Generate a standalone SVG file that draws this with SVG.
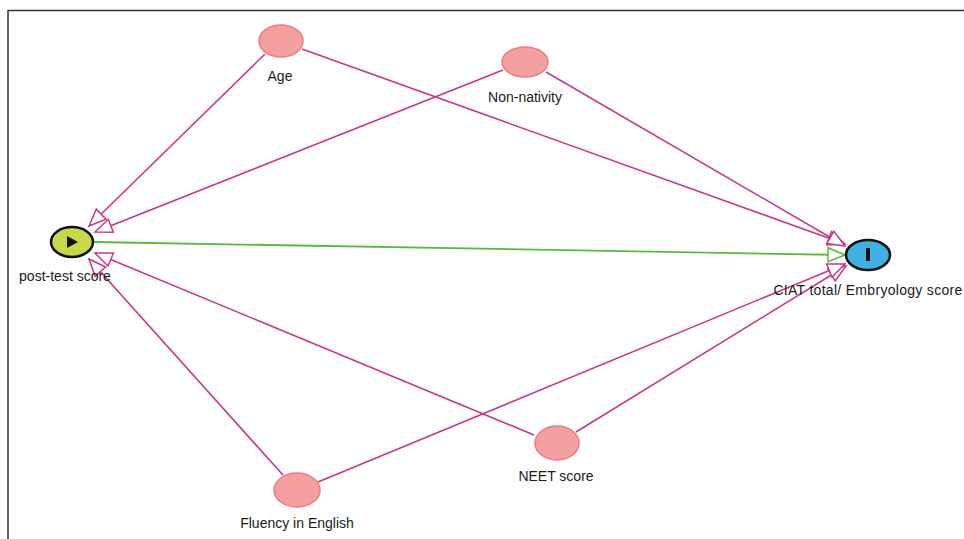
<svg xmlns="http://www.w3.org/2000/svg" width="964" height="539" viewBox="0 0 964 539">
  <style>
    .edge { fill: none; stroke: #c8378a; stroke-width: 1.6; marker-end: url(#arrow-pink); }
    .edge-main { fill: none; stroke: #5db83a; stroke-width: 1.8; marker-end: url(#arrow-green); }
    .var { fill: #f4a0a0; stroke: #ee7b80; stroke-width: 1.5; }
    .label { font-family: "Liberation Sans", Arial, sans-serif; font-size: 14px; fill: #1a1a1a; text-anchor: middle; }
  </style>
  <defs>
    <marker id="arrow-pink" viewBox="-19 -9 21 18" refX="0" refY="0" markerWidth="21" markerHeight="18" markerUnits="userSpaceOnUse" orient="auto">
      <path d="M0,0 L-17,-7 L-17,7 Z" fill="#fff" stroke="#c8378a" stroke-width="1.5"/>
    </marker>
    <marker id="arrow-green" viewBox="-19 -9 21 18" refX="0" refY="0" markerWidth="21" markerHeight="18" markerUnits="userSpaceOnUse" orient="auto">
      <path d="M0,0 L-17,-7 L-17,7 Z" fill="#fff" stroke="#5db83a" stroke-width="1.5"/>
    </marker>
  </defs>

  <rect width="964" height="539" fill="#fff"/>
  <!-- frame -->
  <path d="M8,539 V10.5 H964" fill="none" stroke="#333" stroke-width="1.5"/>

  <g id="connectors">
    <line class="edge" x1="265" y1="54" x2="89" y2="226"/>
    <line class="edge" x1="302" y1="49" x2="845" y2="244"/>
    <line class="edge" x1="503" y1="70" x2="95" y2="232"/>
    <line class="edge" x1="546" y1="72" x2="845" y2="246"/>
    <line class="edge" x1="534" y1="435" x2="95" y2="253"/>
    <line class="edge" x1="576" y1="432" x2="846" y2="266"/>
    <line class="edge" x1="283" y1="475" x2="89" y2="259"/>
    <line class="edge" x1="318" y1="482" x2="845" y2="264"/>
    <line class="edge-main" x1="94" y1="242" x2="845" y2="255"/>
  </g>

  <g id="post-test-score">
    <ellipse cx="72" cy="242" rx="21" ry="15" fill="#c7d84a" stroke="#111" stroke-width="2.5"/>
    <path d="M67,236 L67,248 L78,242 Z" fill="#111"/>
    <text class="label" x="65" y="281">post-test score</text>
  </g>

  <g id="ciat-total">
    <ellipse cx="868" cy="255" rx="22" ry="15" fill="#3fb2e3" stroke="#111" stroke-width="2.5"/>
    <rect x="866" y="248" width="4" height="13" fill="#111"/>
    <text class="label" x="868" y="295" letter-spacing="0.3">CIAT total/ Embryology score</text>
  </g>

  <g id="age">
    <ellipse class="var" cx="281" cy="41" rx="22" ry="16"/>
    <text class="label" x="280" y="81">Age</text>
  </g>

  <g id="non-nativity">
    <ellipse class="var" cx="525" cy="62" rx="23" ry="15"/>
    <text class="label" x="525" y="102">Non-nativity</text>
  </g>

  <g id="neet-score">
    <ellipse class="var" cx="557" cy="443" rx="22" ry="17"/>
    <text class="label" x="556" y="481">NEET score</text>
  </g>

  <g id="fluency-in-english">
    <ellipse class="var" cx="297" cy="490" rx="23" ry="17"/>
    <text class="label" x="297" y="528">Fluency in English</text>
  </g>
</svg>
